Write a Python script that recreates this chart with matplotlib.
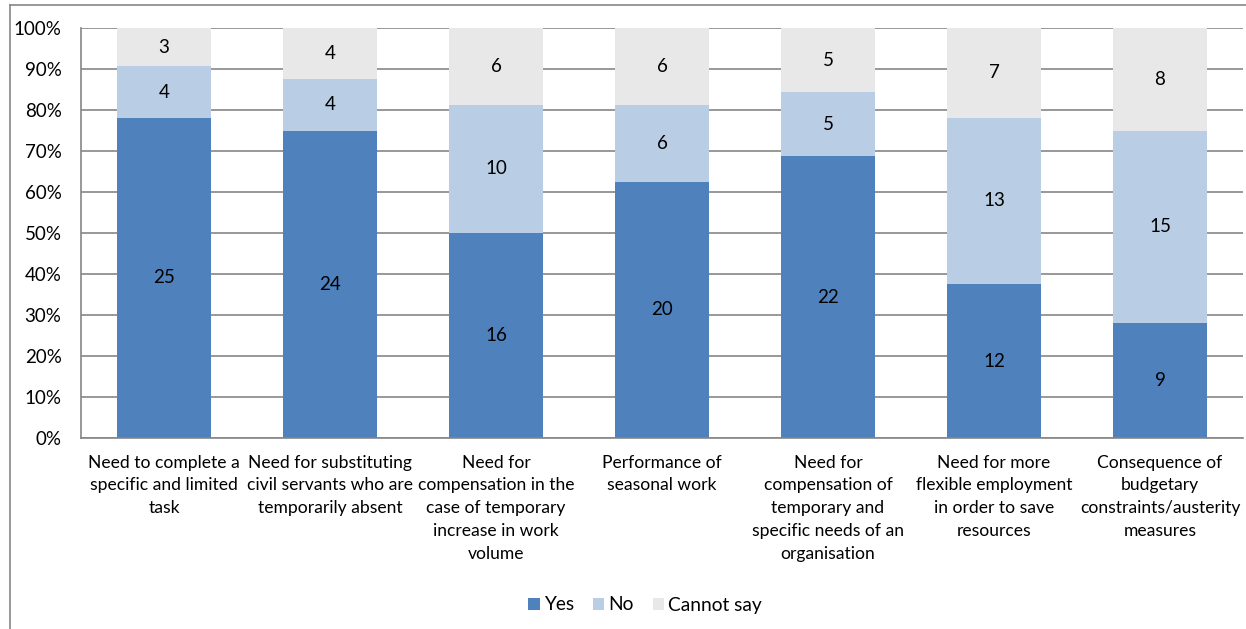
import numpy as np
import matplotlib.pyplot as plt
from matplotlib.lines import Line2D
from matplotlib.ticker import PercentFormatter

plt.rcParams['font.family'] = ['Lato', 'DejaVu Sans']

categories = ["Need to complete a\nspecific and limited\ntask",
              "Need for substituting\ncivil servants who are\ntemporarily absent",
              "Need for\ncompensation in the\ncase of temporary\nincrease in work\nvolume",
              "Performance of\nseasonal work",
              "Need for\ncompensation of\ntemporary and\nspecific needs of an\norganisation",
              "Need for more\nflexible employment\nin order to save\nresources",
              "Consequence of\nbudgetary\nconstraints/austerity\nmeasures"]
yes = [25, 24, 16, 20, 22, 12, 9]
no = [4, 4, 10, 6, 5, 13, 15]
cannot = [3, 4, 6, 6, 5, 7, 8]
series = ["Yes", "No", "Cannot say"]
colors = ["#4F81BD", "#B9CDE5", "#E8E8E8"]

data = np.array([yes, no, cannot], dtype=float)
total = data.sum(axis=0)
pct = data / total * 100

fig = plt.figure(figsize=(12.46, 6.29), dpi=100)
ax = fig.add_axes([81/1246, 1-438/629, (1243-81)/1246, (438-28)/629])

x = np.arange(len(categories))
bottom = np.zeros(len(categories))
for i in range(3):
    bars = ax.bar(x, pct[i], 0.57, bottom=bottom, color=colors[i], label=series[i], zorder=2)
    for j, b in enumerate(bars):
        ax.text(b.get_x() + b.get_width()/2, bottom[j] + pct[i][j]/2, str(int(data[i][j])),
                ha='center', va='center', fontsize=13.5, color='black', zorder=3)
    bottom += pct[i]

ax.set_xlim(-0.5, len(categories) - 0.5)
ax.set_ylim(0, 100)
ax.set_yticks(np.arange(0, 101, 10))
ax.yaxis.set_major_formatter(PercentFormatter(decimals=0))
ax.set_xticks(x)
ax.set_xticklabels(categories, fontsize=12.6, linespacing=1.52)
ax.tick_params(axis='y', length=0, labelsize=13.5, pad=14)
ax.tick_params(axis='x', length=0, pad=12)
ax.grid(axis='y', color='#868686', linewidth=1.2, zorder=0)
ax.set_axisbelow(True)
for s in ['top', 'right']:
    ax.spines[s].set_visible(False)
for s in ['left', 'bottom']:
    ax.spines[s].set_color('#868686')
    ax.spines[s].set_linewidth(1.2)

leg = fig.legend(loc='center', bbox_to_anchor=(645/1246, 1-605/629), ncol=3, frameon=False,
                 fontsize=13.8, handlelength=0.6, handleheight=0.6, handletextpad=0.2, columnspacing=1.0)

# outer chart border
fig.add_artist(Line2D([10/1246, 1], [1-5/629, 1-5/629], color='#868686', linewidth=1.2))
fig.add_artist(Line2D([10/1246, 10/1246], [0, 1-5/629], color='#868686', linewidth=1.2))

fig.savefig("out.png", dpi=100)
